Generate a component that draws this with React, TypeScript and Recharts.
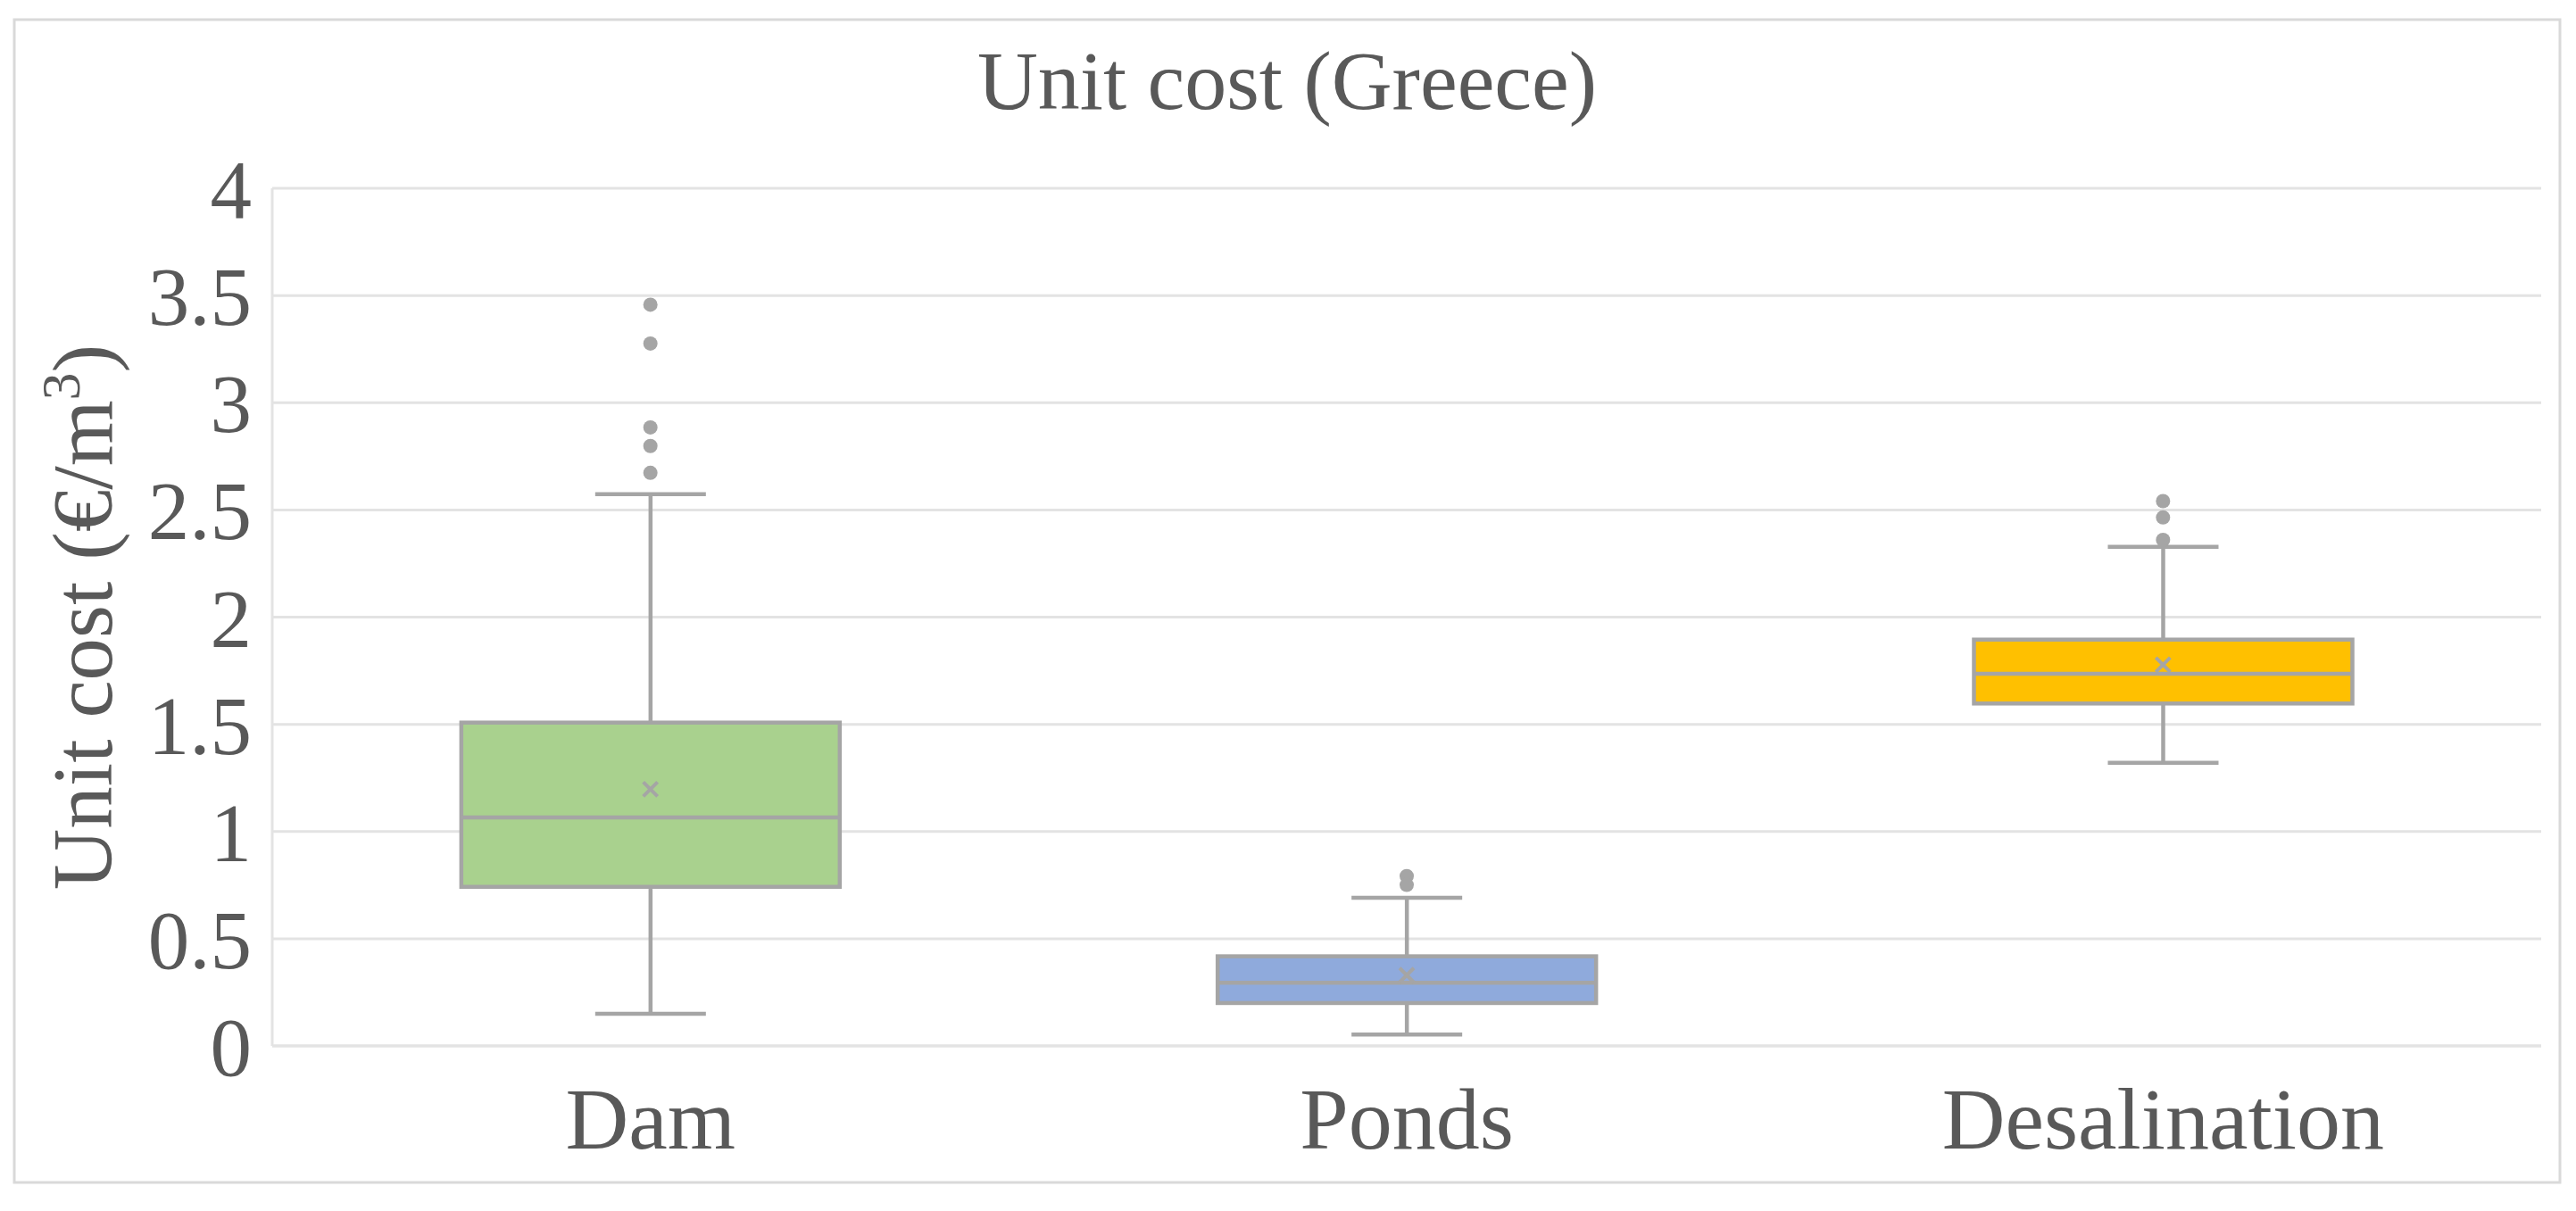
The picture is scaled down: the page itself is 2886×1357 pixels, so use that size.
import React from 'react';
import { ComposedChart, Bar, Scatter, XAxis, YAxis, CartesianGrid } from 'recharts';

const categories = ['Dam', 'Ponds', 'Desalination'];
const minValues = [0.15, 0.053, 1.32];
const q1Values = [0.742, 0.2, 1.597];
const medianValues = [1.066, 0.295, 1.736];
const q3Values = [1.508, 0.418, 1.895];
const maxValues = [2.573, 0.691, 2.328];
const meanValues = [1.197, 0.33, 1.778];
const outlierCategories = ['Dam', 'Dam', 'Dam', 'Dam', 'Dam', 'Ponds', 'Ponds', 'Desalination', 'Desalination', 'Desalination'];
const outlierValues = [3.457, 3.276, 2.885, 2.798, 2.673, 0.792, 0.751, 2.541, 2.465, 2.36];
const yTicks = [0, 0.5, 1, 1.5, 2, 2.5, 3, 3.5, 4];
const boxColors = ['#A9D18E', '#8FAADC', '#FFC000'];

const FONT = '"Liberation Serif", "Times New Roman", serif';
const TEXT = '#595959';
const LINE = '#A5A5A5';
const GRID = '#E3E3E3';

const data = categories.map((cat, i) => ({
  cat,
  whisker: [minValues[i], maxValues[i]],
  box: [q1Values[i], q3Values[i]],
  median: medianValues[i],
  mean: meanValues[i],
  color: boxColors[i],
}));

const outlierData = outlierCategories.map((cat, i) => ({ cat, value: outlierValues[i] }));

const WhiskerShape = (props: any) => {
  const { x, y, width, height } = props;
  const cx = x + width / 2;
  const cap = 62;
  return (
    <g>
      <line x1={cx} x2={cx} y1={y} y2={y + height} stroke={LINE} strokeWidth={4.5} />
      <line x1={cx - cap} x2={cx + cap} y1={y} y2={y} stroke={LINE} strokeWidth={4.5} />
      <line x1={cx - cap} x2={cx + cap} y1={y + height} y2={y + height} stroke={LINE} strokeWidth={4.5} />
    </g>
  );
};

const BoxShape = (props: any) => {
  const { x, y, width, height, payload } = props;
  return <rect x={x} y={y} width={width} height={height} fill={payload.color} stroke={LINE} strokeWidth={4.5} />;
};

const MedianShape = (props: any) => {
  const { cx, cy } = props;
  return <line x1={cx - 212} x2={cx + 212} y1={cy} y2={cy} stroke={LINE} strokeWidth={4.5} />;
};

const MeanShape = (props: any) => {
  const { cx, cy } = props;
  const s = 8;
  return (
    <g>
      <line x1={cx - s} x2={cx + s} y1={cy - s} y2={cy + s} stroke={LINE} strokeWidth={4} />
      <line x1={cx - s} x2={cx + s} y1={cy + s} y2={cy - s} stroke={LINE} strokeWidth={4} />
    </g>
  );
};

const OutlierShape = (props: any) => {
  const { cx, cy } = props;
  return <circle cx={cx} cy={cy} r={8} fill={LINE} />;
};

const XTick = (props: any) => {
  const { x, y, payload } = props;
  return (
    <text x={x} y={y + 115} textAnchor="middle" fontFamily={FONT} fontSize={98} fill={TEXT}>
      {payload.value}
    </text>
  );
};

const YTick = (props: any) => {
  const { x, y, payload } = props;
  return (
    <text x={x} y={y + 33} textAnchor="end" fontFamily={FONT} fontSize={93} fill={TEXT}>
      {String(payload.value)}
    </text>
  );
};

const YLabel = (props: any) => {
  const vb = props.viewBox || { x: 185, y: 211, width: 120, height: 961 };
  const cx = 125;
  const cy = vb.y + vb.height / 2;
  return (
    <text
      x={cx}
      y={cy}
      transform={`rotate(-90, ${cx}, ${cy})`}
      textAnchor="middle"
      fontFamily={FONT}
      fontSize={95}
      fill={TEXT}
    >
      Unit cost (€/m
      <tspan fontSize={62} dy={-36}>3</tspan>
      <tspan dy={36}>)</tspan>
    </text>
  );
};

export default function App() {
  return (
    <div style={{ position: 'absolute', left: 0, top: 0, width: 2886, height: 1357, background: '#fff' }}>
      <svg width={2886} height={1357} style={{ position: 'absolute', left: 0, top: 0 }}>
        <rect x={16} y={22} width={2852} height={1303} fill="#fff" stroke="#D9D9D9" strokeWidth={3} />
        <text x={1442} y={122} textAnchor="middle" fontFamily={FONT} fontSize={94} fill={TEXT}>
          Unit cost (Greece)
        </text>
      </svg>
      <div style={{ position: 'absolute', left: 0, top: 0 }}>
        <ComposedChart
          width={2886}
          height={1357}
          data={data}
          margin={{ top: 211, right: 39, bottom: 85, left: 185 }}
          barCategoryGap="25%"
        >
          <CartesianGrid horizontal vertical={false} stroke={GRID} strokeWidth={3} />
          <XAxis xAxisId="w" dataKey="cat" type="category" hide allowDuplicatedCategory={false} />
          <XAxis
            xAxisId="b"
            dataKey="cat"
            type="category"
            allowDuplicatedCategory={false}
            height={100}
            tickLine={false}
            tickSize={0}
            tickMargin={0}
            axisLine={{ stroke: GRID, strokeWidth: 3 }}
            tick={<XTick />}
            interval={0}
          />
          <YAxis
            domain={[0, 4]}
            ticks={yTicks}
            type="number"
            width={120}
            tickLine={false}
            tickSize={0}
            tickMargin={23}
            axisLine={{ stroke: GRID, strokeWidth: 3 }}
            tick={<YTick />}
            interval={0}
            label={{ content: <YLabel /> }}
          />
          <Bar xAxisId="w" dataKey="whisker" shape={<WhiskerShape />} isAnimationActive={false} />
          <Bar xAxisId="b" dataKey="box" shape={<BoxShape />} isAnimationActive={false} />
          <Scatter xAxisId="b" dataKey="median" shape={<MedianShape />} isAnimationActive={false} />
          <Scatter xAxisId="b" dataKey="mean" shape={<MeanShape />} isAnimationActive={false} />
          <Scatter xAxisId="b" data={outlierData} dataKey="value" shape={<OutlierShape />} isAnimationActive={false} />
        </ComposedChart>
      </div>
    </div>
  );
}
